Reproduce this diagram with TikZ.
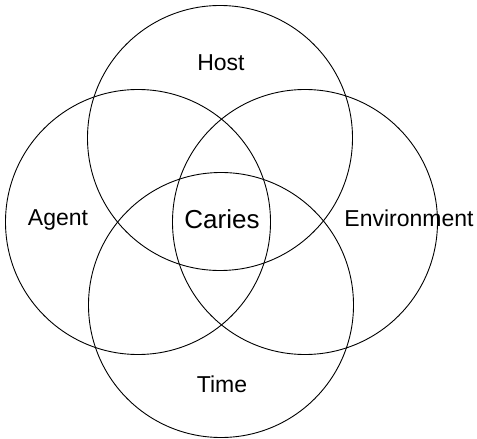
\documentclass[tikz,border=0pt]{standalone}
\usepackage{fontspec}
\setmainfont{Liberation Sans}
\begin{document}
\begin{tikzpicture}[x=1pt, y=-1pt,
  ring/.style={draw=black, line width=0.9pt},
  lbl/.style={anchor=base, inner sep=0pt, font=\fontsize{23}{27}\selectfont},
  core/.style={anchor=base, inner sep=0pt, font=\fontsize{26}{30}\selectfont}]
  \useasboundingbox (0,0) rectangle (477,439);
  % the four overlapping factor circles
  \coordinate (hostc) at (220,138);
  \coordinate (agentc) at (138,222);
  \coordinate (envc) at (305,222);
  \coordinate (timec) at (221,305);
  \draw[ring] (hostc) circle (132.5pt);
  \draw[ring] (agentc) circle (132.5pt);
  \draw[ring] (envc) circle (132.5pt);
  \draw[ring] (timec) circle (132.5pt);
  % labels
  \node[lbl] (host) at (221,70.5) {Host};
  \node[lbl] (agent) at (58,225.5) {Agent};
  \node[lbl] (env) at (409,226.5) {Environment};
  \node[lbl] (time) at (222,392.5) {Time};
  \node[core] (caries) at (222,228) {Caries};
\end{tikzpicture}
\end{document}
